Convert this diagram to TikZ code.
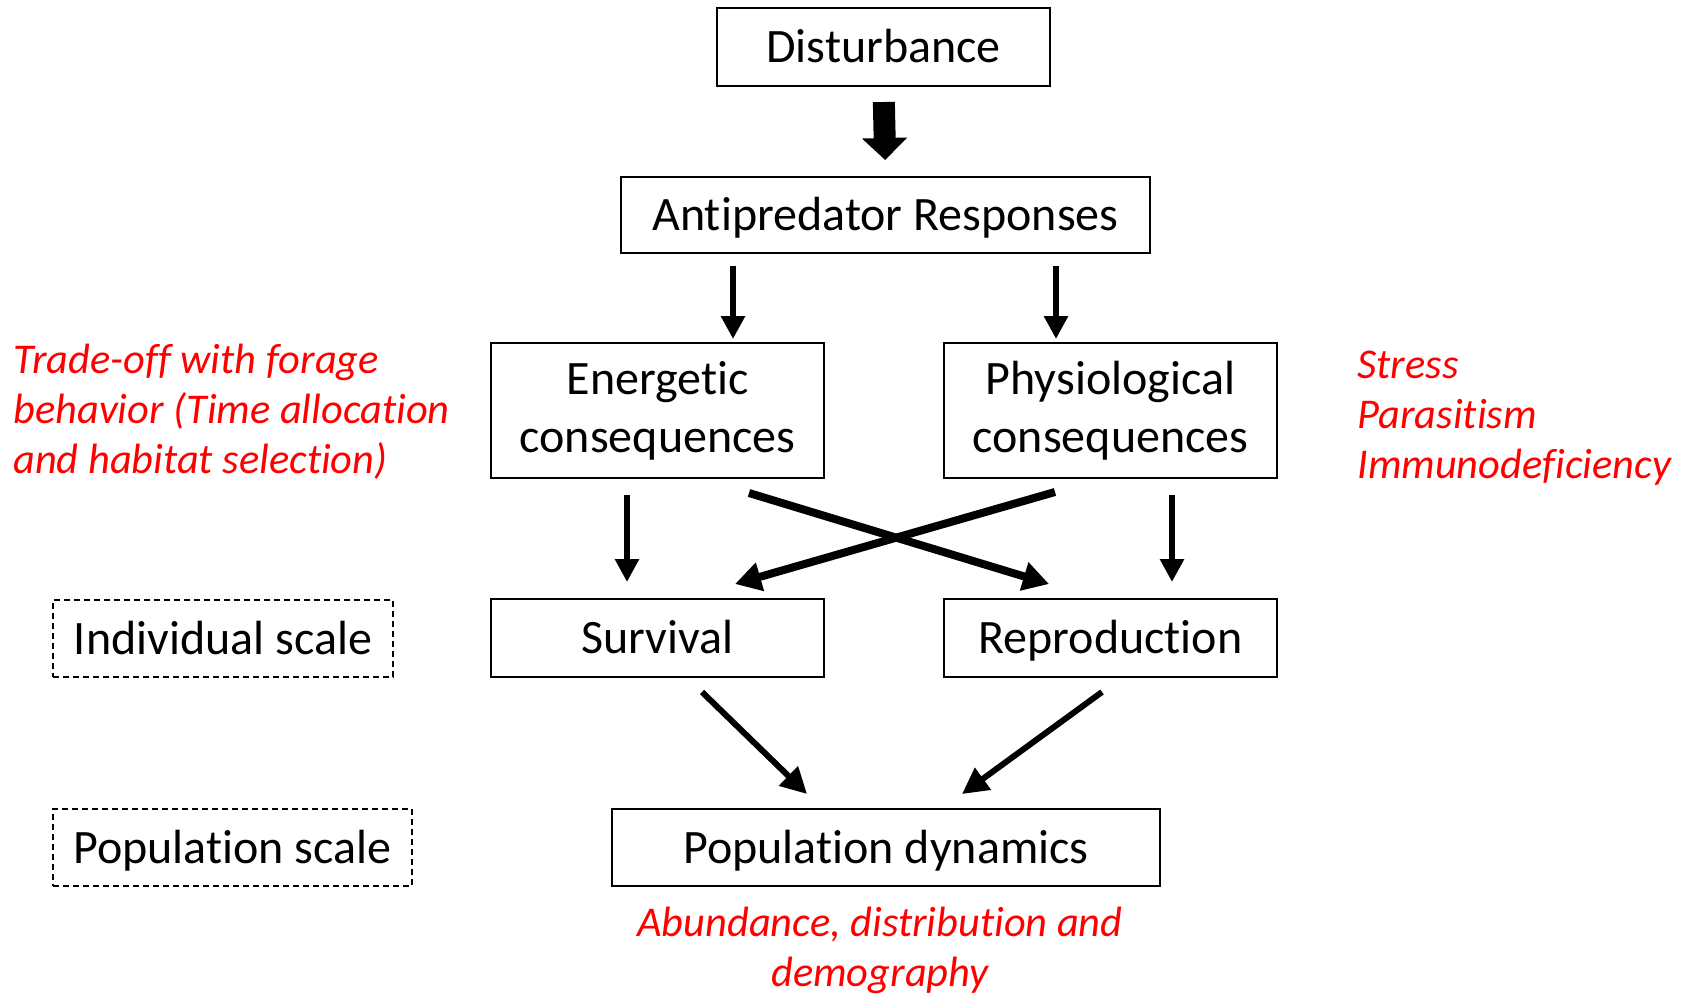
\documentclass[tikz,border=0pt]{standalone}
\usepackage{fontspec}
\setmainfont{Carlito}[Ligatures=NoCommon]
\usetikzlibrary{arrows.meta}

\tikzset{
  box/.style={draw, line width=1pt, inner sep=0pt, align=center,
    font=\fontsize{24}{29}\selectfont},
  onebox/.style={box, text height=20.6pt, text depth=4.8pt},
  scalebox/.style={onebox, dash pattern=on 3pt off 2pt},
  note/.style={text=red, inner sep=0pt, font=\fontsize{21.2}{25}\selectfont\itshape},
  bigarrow/.style={line width=11pt, -{Triangle[width=22pt,length=11pt]}},
  downarrow/.style={line width=3pt, -{Triangle[width=11.5pt,length=11.5pt]}},
  crossarrow/.style={line width=4pt, -{Triangle[width=14pt,length=13pt]}}
}

\begin{document}
\begin{tikzpicture}[x=0.5pt, y=-0.5pt]
        \useasboundingbox (0,0) rectangle (1684,995);

        \node[onebox, minimum width=166.5pt, minimum height=39pt] (D) at (883.5, 47) {Disturbance};
        \node[onebox, minimum width=264.5pt, minimum height=38pt] (AR) at (885.5, 215) {Antipredator Responses};
        \node[box, minimum width=166.5pt, minimum height=67.5pt] (EC) at (657.5, 410.5) {Energetic\\consequences};
        \node[box, minimum width=166.5pt, minimum height=67.5pt] (PC) at (1110.5, 410.5) {Physiological\\consequences};
        \node[onebox, minimum width=166.5pt, minimum height=39pt] (S) at (657.5, 638) {Survival};
        \node[onebox, minimum width=166.5pt, minimum height=39pt] (R) at (1110.5, 638) {Reproduction};
        \node[onebox, minimum width=274pt, minimum height=38.5pt] (PD) at (886, 847.5) {Population dynamics};
        \node[scalebox, minimum width=170pt, minimum height=38.5pt] (IS) at (223, 638.5) {Individual scale};
        \node[scalebox, minimum width=179.5pt, minimum height=38.5pt] (PS) at (232.5, 847.5) {Population scale};

        \node[note, anchor=west, align=left] (TO) at (13, 412) {Trade-off with forage\\behavior (Time allocation\\and habitat selection)};
        \node[note, anchor=west, align=left] (SP) at (1357, 418) {Stress\\Parasitism\\Immunodeficiency};
        \node[note, align=center] (AD) at (880, 950) {Abundance, distribution and\\demography};

        \draw[bigarrow, shorten <=7.5pt, shorten >=8pt] (D.south) to (AR.north);
        \draw[downarrow, shorten <=6pt, shorten >=1.5pt] ([xshift=-76.25pt]AR.south) to ([xshift=37.75pt]EC.north);
        \draw[downarrow, shorten <=6pt, shorten >=1.5pt] ([xshift=85.25pt]AR.south) to ([xshift=-27.25pt]PC.north);

        \draw[downarrow] ([xshift=-15.25pt, yshift=-8pt]EC.south) to ([xshift=-15.25pt, yshift=8pt]S.north);
        \draw[downarrow] ([xshift=30.75pt, yshift=-8pt]PC.south) to ([xshift=30.75pt, yshift=8pt]R.north);
        \draw[crossarrow] ([xshift=45.75pt, yshift=-7pt]EC.south) to ([xshift=-30.75pt, yshift=7pt]R.north);
        \draw[crossarrow] ([xshift=-27.75pt, yshift=-6.5pt]PC.south) to ([xshift=38.75pt, yshift=7pt]S.north);

        \draw[downarrow, -{Triangle[width=13pt,length=13pt]}] ([xshift=22.25pt, yshift=-7pt]S.south) to ([xshift=-39.5pt, yshift=7pt]PD.north);
        \draw[downarrow, -{Triangle[width=13pt,length=13pt]}] ([xshift=-4.25pt, yshift=-7pt]R.south) to ([xshift=38pt, yshift=7pt]PD.north);
      \end{tikzpicture}
\end{document}
